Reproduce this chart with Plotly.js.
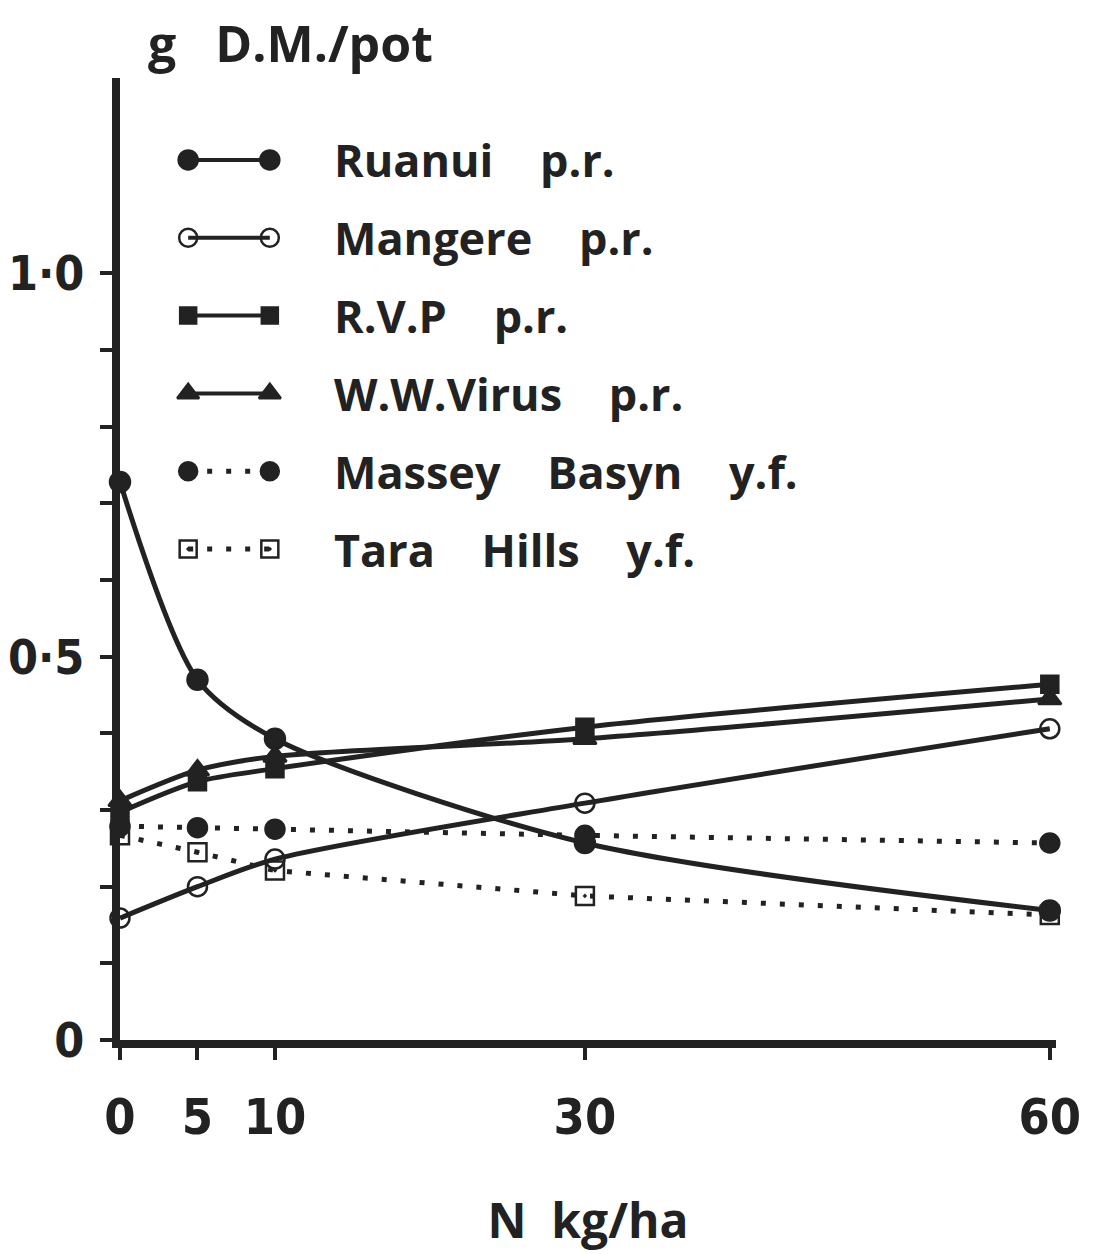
<!DOCTYPE html>
<html>
<head>
<meta charset="utf-8">
<script src="https://cdn.plot.ly/plotly-3.0.1.min.js"></script>
<style>
html,body{margin:0;padding:0;background:#fff;}
#chart{width:1093px;height:1254px;}
</style>
</head>
<body>
<div id="chart"></div>
<script>
// ---- data ----
const nRates = [0, 5, 10, 30, 60];
const seriesNames = ["Ruanui", "Mangere", "R.V.P", "W.W.Virus", "Massey Basyn", "Tara Hills"];
const seriesSuffix = ["p.r.", "p.r.", "p.r.", "p.r.", "y.f.", "y.f."];
const ruanui   = [0.728, 0.470, 0.393, 0.257, 0.169];
const mangere  = [0.159, 0.200, 0.236, 0.309, 0.406];
const rvp      = [0.297, 0.337, 0.354, 0.408, 0.464];
const wwVirus  = [0.312, 0.352, 0.370, 0.393, 0.445];
const massey   = [0.279, 0.277, 0.275, 0.267, 0.257];
const taraHills= [0.267, 0.245, 0.221, 0.188, 0.163];
const yTickVals = [0, 0.1, 0.2, 0.3, 0.4, 0.5, 0.6, 0.7, 0.8, 0.9, 1.0];
const yTickText = ["0", "", "", "", "", "0\u00b75", "", "", "", "", "1\u00b70"];
const xTickText = ["0", "5", "10", "30", "60"];

const ink = "#222";
const sans = "'Open Sans', Lato, sans-serif";
const cond = "'DejaVu Sans Condensed', 'DejaVu Sans', sans-serif";
const gap = "\u00a0\u00a0\u00a0\u00a0";
const styles = [
  {symbol: "circle", size: 20, dash: "solid", shape: "spline"},
  {symbol: "circle-open", size: 19, dash: "solid", shape: "spline"},
  {symbol: "square", size: 17, dash: "solid", shape: "spline"},
  {symbol: "triangle-up", size: 20, dash: "solid", shape: "spline"},
  {symbol: "circle", size: 19, dash: "5px,14px", shape: "linear"},
  {symbol: "square-open-dot", size: 18, dash: "5px,14px", shape: "linear"}
];
const allSeries = [ruanui, mangere, rvp, wwVirus, massey, taraHills];

const traces = [];
allSeries.forEach((ys, i) => {
  const s = styles[i];
  traces.push({
    x: nRates, y: ys, type: "scatter", mode: "lines+markers",
    name: seriesNames[i] + " " + seriesSuffix[i],
    showlegend: false, cliponaxis: false,
    line: {color: ink, width: 5, dash: s.dash, shape: s.shape, smoothing: 0.8},
    marker: {symbol: s.symbol, size: s.size, color: ink, line: {color: ink, width: 2.5}}
  });
});
// legend samples drawn on an overlay axis pair (row index = series index)
allSeries.forEach((ys, i) => {
  const s = styles[i];
  traces.push({
    x: [0, 1], y: [i, i], xaxis: "x2", yaxis: "y2", type: "scatter", mode: "lines+markers",
    showlegend: false, hoverinfo: "skip", cliponaxis: false,
    line: {color: ink, width: s.dash === "solid" ? 4 : 5, dash: s.dash},
    marker: {symbol: s.symbol, size: s.size - 1, color: ink, line: {color: ink, width: 2.5}}
  });
});

const annotations = seriesNames.map((n, i) => ({
  xref: "paper", yref: "y2", x: 0.2265, y: i, xanchor: "left", yanchor: "middle",
  text: "<b>" + n.replace(/ /g, gap) + gap + seriesSuffix[i] + "</b>", showarrow: false,
  font: {family: sans, size: 45, color: ink}
}));

const layout = {
  width: 1093, height: 1254,
  paper_bgcolor: "#fff", plot_bgcolor: "#fff",
  margin: {l: 120, r: 37, t: 78, b: 214},
  showlegend: false,
  title: {
    text: "<b>g\u00a0\u00a0\u00a0D.M./pot</b>",
    xref: "container", yref: "container",
    x: 148 / 1093, xanchor: "left", y: 1 - 44 / 1254, yanchor: "middle",
    font: {family: sans, size: 50, color: ink}
  },
  xaxis: {
    range: [0, 60.4], showgrid: false, zeroline: false,
    showline: true, linewidth: 8, linecolor: ink,
    tickvals: nRates, ticktext: xTickText, ticks: "outside", ticklen: 12, tickwidth: 4, tickcolor: ink,
    ticklabelstandoff: 14,
    tickfont: {family: cond, size: 50, color: ink, weight: 700, stretch: "condensed"},
    title: {text: "<b>N\u00a0\u00a0kg/ha</b>", standoff: 62,
      font: {family: sans, size: 48, color: ink}}
  },
  yaxis: {
    range: [0, 1.255], showgrid: false, zeroline: false,
    showline: true, linewidth: 8, linecolor: ink,
    tickvals: yTickVals, ticktext: yTickText, ticks: "outside", ticklen: 12, tickwidth: 4, tickcolor: ink,
    ticklabelstandoff: 6,
    tickfont: {family: cond, size: 48, color: ink, weight: 700, stretch: "condensed"}
  },
  xaxis2: {domain: [0.0641, 0.1688], range: [-0.1, 1.1], anchor: "y2", visible: false, fixedrange: true},
  yaxis2: {domain: [0.4699, 0.9553], range: [5.5, -0.5], anchor: "x2", visible: false, fixedrange: true},
  annotations: annotations
};

Plotly.newPlot("chart", traces, layout, {staticPlot: true});
</script>
</body>
</html>
